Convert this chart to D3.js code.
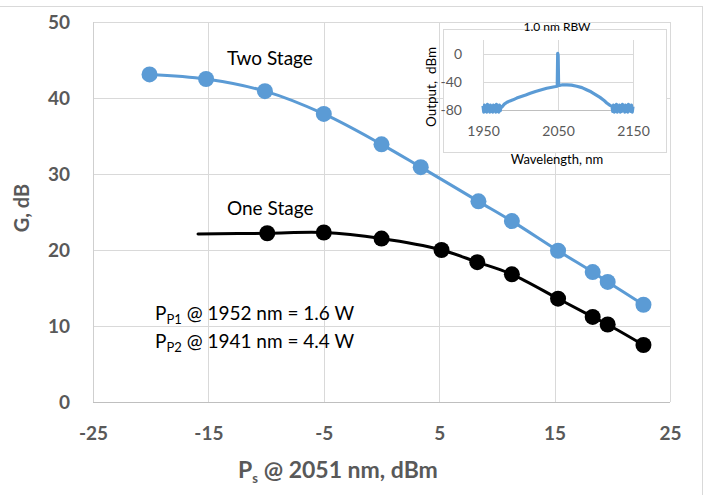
<!DOCTYPE html>
<html>
<head>
<meta charset="utf-8">
<title>Gain vs signal power</title>
<script src="https://d3js.org/d3.v7.min.js"></script>
<style>
  body { margin: 0; background: #fff; }
  text { font-family: Lato, "Open Sans", sans-serif; }
</style>
</head>
<body>
<div id="chart"></div>
<script>
// ---- data ----
var xTicks = [-25, -15, -5, 5, 15, 25];
var yTicks = [0, 10, 20, 30, 40, 50];

// Two Stage (blue)
var twoStageP = [-20.1, -15.2, -10.1, -5.0, 0.0, 3.4, 8.4, 11.3, 15.3, 18.3, 19.6, 22.7];
var twoStageG = [43.1, 42.5, 40.9, 37.9, 33.9, 30.9, 26.4, 23.8, 19.9, 17.1, 15.8, 12.8];

// One Stage (black) - first point is the start of the line, no marker
var oneStageP = [-15.9, -9.9, -5.0, 0.0, 5.2, 8.3, 11.3, 15.3, 18.3, 19.6, 22.7];
var oneStageG = [22.1, 22.2, 22.3, 21.5, 20.0, 18.4, 16.8, 13.6, 11.2, 10.2, 7.5];

// inset spectrum
var insetXTicks = [1950, 2050, 2150];
var insetYTicks = [-80, -40, 0];
var specWl = [1950, 1951, 1952, 1953, 1954, 1955, 1956, 1957, 1958, 1959, 1960, 1961, 1962, 1963, 1964, 1965, 1966,
              1967, 1968, 1969, 1970, 1971, 1972, 1973, 1974, 1975, 1978, 1982, 1986, 1990, 1995, 2000, 2007, 2013,
              2020, 2028, 2035, 2042, 2047, 2049, 2049.6, 2050.2, 2050.8, 2052, 2056, 2062, 2068, 2075, 2082, 2088,
              2094, 2100, 2106, 2111, 2115, 2119, 2122, 2123, 2124, 2125, 2126, 2127, 2128, 2129, 2130, 2131, 2132,
              2133, 2134, 2135, 2136, 2137, 2138, 2139, 2140, 2141, 2142, 2143, 2144, 2145, 2146, 2147, 2148, 2149, 2150];
var specDbm = [-74, -83, -73, -82, -75, -83, -72, -81, -74, -83, -73, -82, -75, -83, -73, -81, -74,
               -83, -72, -82, -75, -83, -73, -81, -75, -76, -72, -69, -67, -65.5, -63, -61, -58.5, -56,
               -53.5, -51, -49, -47.5, -46.5, -46, 1, -2, -45, -45, -44, -44, -44.5, -46, -48, -51,
               -54, -58, -62, -66, -70, -73, -75, -82, -73, -83, -74, -82, -72, -83, -75, -81, -73,
               -83, -74, -82, -72, -81, -75, -83, -73, -82, -74, -83, -72, -81, -75, -82, -73, -83, -75];

var W = 708, H = 495;
var blue = "#5b9bd5", grid = "#d9d9d9", tickCol = "#595959";
var plain = function(d) { return String(d); };

var svg = d3.select("#chart").append("svg")
  .attr("width", W).attr("height", H);

// outer chart border
svg.append("rect")
  .attr("x", -1).attr("y", 6.5).attr("width", 703.5).attr("height", H + 10)
  .attr("fill", "none").attr("stroke", grid);

// scales
var x = d3.scaleLinear().domain([-25, 25]).range([93, 670]);
var y = d3.scaleLinear().domain([0, 50]).range([402, 22]);

// gridlines
svg.append("g").selectAll("line").data(yTicks.slice(1)).join("line")
  .attr("x1", x(-25)).attr("x2", x(25))
  .attr("y1", function(d) { return Math.round(y(d)) + 0.5; })
  .attr("y2", function(d) { return Math.round(y(d)) + 0.5; })
  .attr("stroke", grid).attr("stroke-width", 1);
svg.append("g").selectAll("line").data(xTicks.slice(1)).join("line")
  .attr("x1", function(d) { return Math.round(x(d)) + 0.5; })
  .attr("x2", function(d) { return Math.round(x(d)) + 0.5; })
  .attr("y1", y(0)).attr("y2", y(50))
  .attr("stroke", grid).attr("stroke-width", 1);
// axis lines
svg.append("line")
  .attr("x1", Math.round(x(-25)) + 0.5).attr("x2", Math.round(x(-25)) + 0.5)
  .attr("y1", y(0)).attr("y2", y(50)).attr("stroke", "#cfcfcf");
svg.append("line")
  .attr("x1", x(-25)).attr("x2", x(25))
  .attr("y1", Math.round(y(0)) + 0.5).attr("y2", Math.round(y(0)) + 0.5).attr("stroke", "#bfbfbf");

// axes (labels only)
var yAxis = svg.append("g")
  .attr("transform", "translate(" + x(-25) + ",0)")
  .call(d3.axisLeft(y).tickValues(yTicks).tickFormat(plain).tickSize(0).tickPadding(23));
var xAxis = svg.append("g")
  .attr("transform", "translate(0," + y(0) + ")")
  .call(d3.axisBottom(x).tickValues(xTicks).tickFormat(plain).tickSize(0).tickPadding(25));
[yAxis, xAxis].forEach(function(a) {
  a.select(".domain").remove();
  a.selectAll("text")
    .style("font-family", "Lato, sans-serif")
    .style("font-size", "19px").style("font-weight", "bold")
    .attr("fill", tickCol);
});

// axis titles
svg.append("text")
  .attr("transform", "translate(29,208) rotate(-90)")
  .attr("text-anchor", "middle")
  .style("font-size", "20px").style("font-weight", "bold").attr("fill", tickCol)
  .text("G, dB");
var xt = svg.append("text")
  .attr("x", 338).attr("y", 478)
  .attr("text-anchor", "middle")
  .style("font-size", "23px").style("font-weight", "bold").attr("fill", tickCol);
xt.append("tspan").text("P");
xt.append("tspan").attr("dy", 5).style("font-size", "13px").text("s");
xt.append("tspan").attr("dy", -5).text(" @ 2051 nm, dBm");

// series
var line = d3.line()
  .x(function(d) { return x(d[0]); })
  .y(function(d) { return y(d[1]); })
  .curve(d3.curveCatmullRom.alpha(0.5));

var twoData = twoStageP.map(function(p, i) { return [p, twoStageG[i]]; });
var oneData = oneStageP.map(function(p, i) { return [p, oneStageG[i]]; });

svg.append("path").datum(oneData).attr("d", line)
  .attr("fill", "none").attr("stroke", "#000").attr("stroke-width", 3).attr("stroke-linecap", "round");
svg.append("g").selectAll("circle").data(oneData.slice(1)).join("circle")
  .attr("cx", function(d) { return x(d[0]); })
  .attr("cy", function(d) { return y(d[1]); })
  .attr("r", 8).attr("fill", "#000");

svg.append("path").datum(twoData).attr("d", line)
  .attr("fill", "none").attr("stroke", blue).attr("stroke-width", 3);
svg.append("g").selectAll("circle").data(twoData).join("circle")
  .attr("cx", function(d) { return x(d[0]); })
  .attr("cy", function(d) { return y(d[1]); })
  .attr("r", 8).attr("fill", blue);

// annotations
svg.append("text").attr("x", 227).attr("y", 65)
  .style("font-size", "19px").attr("fill", "#000").text("Two Stage");
svg.append("text").attr("x", 227).attr("y", 215)
  .style("font-size", "19px").attr("fill", "#000").text("One Stage");

function pumpLabel(yy, sub, rest) {
  var t = svg.append("text").attr("x", 155).attr("y", yy)
    .style("font-size", "19px").attr("fill", "#000");
  t.append("tspan").text("P");
  t.append("tspan").attr("dy", 4).style("font-size", "13px").text(sub);
  t.append("tspan").attr("dy", -4).text(" " + rest);
}
pumpLabel(320, "P1", "@ 1952 nm = 1.6 W");
pumpLabel(348, "P2", "@ 1941 nm = 4.4 W");

// ---- inset ----
var ins = svg.append("g");
ins.append("rect")
  .attr("x", 443.5).attr("y", 29.5).attr("width", 223).attr("height", 123)
  .attr("fill", "#fff").attr("stroke", grid);

var ix = d3.scaleLinear().domain([1950, 2150]).range([483, 633]);
var iy = d3.scaleLinear().domain([-80, 20]).range([110, 40]);

ins.append("g").selectAll("line").data([-40, 0]).join("line")
  .attr("x1", ix(1950)).attr("x2", ix(2150))
  .attr("y1", function(d) { return Math.round(iy(d)) + 0.5; })
  .attr("y2", function(d) { return Math.round(iy(d)) + 0.5; })
  .attr("stroke", grid);
ins.append("g").selectAll("line").data(insetXTicks).join("line")
  .attr("x1", function(d) { return Math.round(ix(d)) + 0.5; })
  .attr("x2", function(d) { return Math.round(ix(d)) + 0.5; })
  .attr("y1", iy(-80)).attr("y2", iy(20))
  .attr("stroke", grid);
ins.append("line")
  .attr("x1", ix(1950)).attr("x2", ix(2150))
  .attr("y1", Math.round(iy(-80)) + 0.5).attr("y2", Math.round(iy(-80)) + 0.5)
  .attr("stroke", "#bfbfbf");

var iyAxis = ins.append("g").attr("transform", "translate(" + ix(1950) + ",0)")
  .call(d3.axisLeft(iy).tickValues(insetYTicks).tickFormat(plain).tickSize(0).tickPadding(21));
var ixAxis = ins.append("g").attr("transform", "translate(0," + iy(-80) + ")")
  .call(d3.axisBottom(ix).tickValues(insetXTicks).tickFormat(plain).tickSize(0).tickPadding(16));
[iyAxis, ixAxis].forEach(function(a) {
  a.select(".domain").remove();
  a.selectAll("text")
    .style("font-family", "Lato, sans-serif")
    .style("font-size", "14px").attr("fill", tickCol);
});

var specLine = d3.line()
  .x(function(d) { return ix(d[0]); })
  .y(function(d) { return iy(d[1]); });
ins.append("path")
  .datum(specWl.map(function(w, i) { return [w, specDbm[i]]; }))
  .attr("d", specLine)
  .attr("fill", "none").attr("stroke", blue).attr("stroke-width", 3.2)
  .attr("stroke-linejoin", "round");

ins.append("text").attr("x", 557).attr("y", 31).attr("text-anchor", "middle")
  .style("font-size", "12px").attr("fill", "#000").text("1.0 nm RBW");
ins.append("text")
  .attr("transform", "translate(436,87) rotate(-90)").attr("text-anchor", "middle")
  .style("font-size", "13.5px").style("white-space", "pre").attr("fill", "#000")
  .text("Output,\u00a0\u00a0dBm");
ins.append("text").attr("x", 557).attr("y", 164).attr("text-anchor", "middle")
  .style("font-size", "13px").attr("fill", "#000").text("Wavelength, nm");
</script>
</body>
</html>
